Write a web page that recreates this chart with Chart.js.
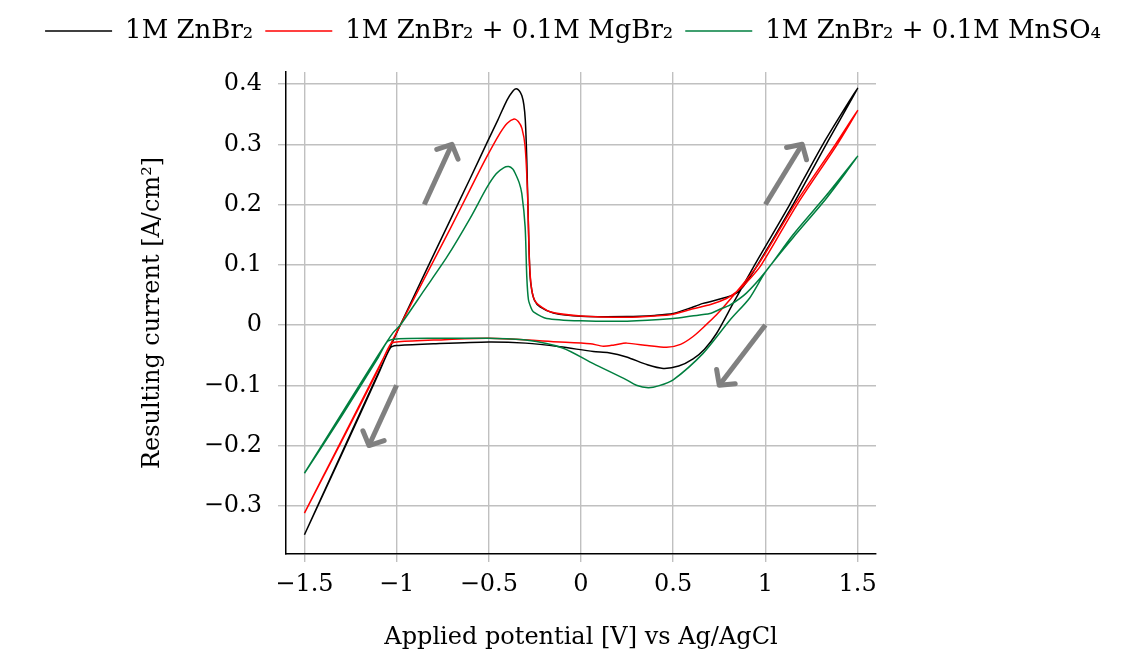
<!DOCTYPE html>
<html>
<head>
<meta charset="utf-8">
<script src="https://cdn.jsdelivr.net/npm/chart.js@4.4.0/dist/chart.umd.min.js"></script>
<style>
  html, body { margin: 0; padding: 0; background: #fff; }
  #wrap { width: 1146px; height: 652px; position: relative; }
</style>
</head>
<body>
<div id="wrap"><canvas id="cv"></canvas></div>
<script>
// series names (legend)
const seriesNames = ['1M ZnBr\u2082', '1M ZnBr\u2082 + 0.1M MgBr\u2082', '1M ZnBr\u2082 + 0.1M MnSO\u2084'];

// potential [V] / current [A/cm2], in sweep order
const blackV = [-1.5, -1.3, -1.1, -0.98, -0.85, -0.727, -0.6, -0.511, -0.45, -0.402, -0.37, -0.352, -0.335, -0.321, -0.31, -0.302, -0.294, -0.285, -0.277, -0.267, -0.252, -0.222, -0.15, 0.0, 0.25, 0.4, 0.5, 0.608, 0.662, 0.789, 0.843, 0.88, 0.958, 1.15, 1.33, 1.5,
  1.312, 1.132, 0.942, 0.825, 0.735, 0.67, 0.608, 0.53, 0.446, 0.36, 0.247, 0.15, 0.067, -0.114, -0.3, -0.5, -0.8, -1.0, -1.034, -1.1, -1.3, -1.5];
const blackI = [-0.348, -0.214, -0.080, 0.000, 0.084, 0.163, 0.244, 0.302, 0.341, 0.373, 0.388, 0.392, 0.389, 0.381, 0.366, 0.340, 0.274, 0.163, 0.085, 0.058, 0.041, 0.030, 0.020, 0.0145, 0.014, 0.016, 0.019, 0.030, 0.036, 0.046, 0.053, 0.064, 0.100, 0.200, 0.300, 0.393,
  0.300, 0.200, 0.100, 0.036, -0.014, -0.040, -0.056, -0.068, -0.072, -0.066, -0.053, -0.046, -0.044, -0.036, -0.030, -0.028, -0.031, -0.034, -0.038, -0.082, -0.216, -0.348];

const redV = [-1.5, -1.3, -1.1, -0.98, -0.85, -0.709, -0.6, -0.52, -0.44, -0.40, -0.363, -0.340, -0.320, -0.303, -0.29, -0.28, -0.268, -0.245, -0.168, 0.0, 0.25, 0.4, 0.5, 0.608, 0.703, 0.789, 0.843, 0.89, 0.978, 1.172, 1.39, 1.5,
  1.38, 1.159, 0.96, 0.807, 0.735, 0.67, 0.608, 0.54, 0.464, 0.36, 0.247, 0.18, 0.121, 0.05, -0.114, -0.5, -0.8, -1.0, -1.034, -1.1, -1.3, -1.5];
const redI = [-0.312, -0.192, -0.072, 0.000, 0.077, 0.160, 0.226, 0.274, 0.318, 0.335, 0.342, 0.338, 0.326, 0.296, 0.219, 0.108, 0.060, 0.038, 0.022, 0.015, 0.013, 0.015, 0.018, 0.027, 0.034, 0.044, 0.055, 0.068, 0.100, 0.200, 0.300, 0.356,
  0.300, 0.200, 0.100, 0.042, 0.017, -0.002, -0.019, -0.032, -0.037, -0.034, -0.030, -0.033, -0.035, -0.031, -0.028, -0.022, -0.025, -0.028, -0.032, -0.074, -0.194, -0.312];

const greenV = [-1.5, -1.3, -1.1, -1.02, -0.98, -0.85, -0.727, -0.6, -0.511, -0.46, -0.42, -0.392, -0.37, -0.357, -0.335, -0.321, -0.303, -0.294, -0.285, -0.27, -0.258, -0.186, 0.0, 0.25, 0.5, 0.6, 0.699, 0.76, 0.807, 0.897, 1.005, 1.15, 1.33, 1.5,
  1.33, 1.15, 1.0, 0.915, 0.807, 0.662, 0.5, 0.42, 0.365, 0.3, 0.247, 0.067, -0.1, -0.3, -0.5, -0.8, -1.0, -1.049, -1.1, -1.3, -1.5];
const greenI = [-0.246, -0.148, -0.050, -0.013, 0.000, 0.058, 0.113, 0.178, 0.228, 0.251, 0.261, 0.263, 0.259, 0.252, 0.236, 0.218, 0.163, 0.080, 0.042, 0.028, 0.022, 0.011, 0.007, 0.0065, 0.011, 0.015, 0.019, 0.027, 0.033, 0.053, 0.090, 0.150, 0.215, 0.280,
  0.210, 0.145, 0.088, 0.045, 0.008, -0.047, -0.091, -0.101, -0.104, -0.100, -0.091, -0.064, -0.038, -0.025, -0.022, -0.022, -0.023, -0.027, -0.054, -0.152, -0.246];

const xTicks = [-1.5, -1, -0.5, 0, 0.5, 1, 1.5];
const yTicks = [-0.3, -0.2, -0.1, 0, 0.1, 0.2, 0.3, 0.4];

// sweep direction arrows, in data units
const arrowFrom = [[-0.85, 0.2], [1.0, 0.2], [1.0, 0.0], [-1.0, -0.1]];
const arrowTo = [[-0.7, 0.3], [1.2, 0.3], [0.75, -0.1], [-1.15, -0.2]];

function toPoints(xs, ys) { return xs.map((x, i) => ({ x, y: ys[i] })); }
function fmt(v) { return String(Math.round(v * 10) / 10).replace('-', '\u2212'); }

Chart.defaults.font.family = '"DejaVu Serif", serif';
Chart.defaults.font.size = 24;
Chart.defaults.color = '#000';

// push the plot down below the legend
const legendGap = {
  id: 'legendGap',
  beforeInit(chart) {
    const fit = chart.legend.fit;
    chart.legend.fit = function () { fit.call(this); this.height += 18; };
  }
};

const flowArrows = {
  id: 'flowArrows',
  afterDatasetsDraw(chart) {
    const { ctx, scales: { x, y } } = chart;
    ctx.save();
    ctx.strokeStyle = '#808080';
    ctx.lineWidth = 5;
    ctx.lineJoin = 'round';
    arrowFrom.forEach((a, i) => {
      const x0 = x.getPixelForValue(a[0]), y0 = y.getPixelForValue(a[1]);
      const x1 = x.getPixelForValue(arrowTo[i][0]), y1 = y.getPixelForValue(arrowTo[i][1]);
      const ang = Math.atan2(y0 - y1, x0 - x1);
      ctx.lineCap = 'butt';
      ctx.beginPath(); ctx.moveTo(x0, y0); ctx.lineTo(x1, y1); ctx.stroke();
      ctx.lineCap = 'round';
      ctx.beginPath();
      ctx.moveTo(x1 + 16 * Math.cos(ang + 0.82), y1 + 16 * Math.sin(ang + 0.82));
      ctx.lineTo(x1, y1);
      ctx.lineTo(x1 + 16 * Math.cos(ang - 0.82), y1 + 16 * Math.sin(ang - 0.82));
      ctx.stroke();
    });
    ctx.restore();
  }
};

function line(label, xs, ys, color, order) {
  return { label, data: toPoints(xs, ys), showLine: true, borderColor: color, backgroundColor: color, borderWidth: 1.5, pointRadius: 0, pointHoverRadius: 0, tension: 0.25, fill: false, order };
}

new Chart(document.getElementById('cv'), {
  type: 'scatter',
  data: {
    datasets: [
      line(seriesNames[0], blackV, blackI, '#000000', 2),
      line(seriesNames[1], redV, redI, '#ff0000', 1),
      line(seriesNames[2], greenV, greenI, '#007f3f', 0),
    ]
  },
  options: {
    responsive: true,
    maintainAspectRatio: false,
    animation: false,
    devicePixelRatio: 1,
    events: [],
    layout: { padding: { top: 6 } },
    plugins: {
      legend: {
        position: 'top',
        labels: { usePointStyle: true, pointStyle: 'line', pointStyleWidth: 67, padding: 12, color: '#000', font: { size: 26 }, sort: (a, b) => a.datasetIndex - b.datasetIndex }
      },
      tooltip: { enabled: false }
    },
    scales: {
      x: {
        type: 'linear', min: -1.6, max: 1.6,
        afterBuildTicks: (s) => { s.ticks = xTicks.map((v) => ({ value: v })); },
        grid: { color: '#c0c0c0', lineWidth: 1.4, tickLength: 8 },
        border: { color: '#000', width: 1.5 },
        ticks: { padding: 8, maxRotation: 0, autoSkip: false, callback: (v) => fmt(v) },
        title: { display: true, text: 'Applied potential [V] vs Ag/AgCl', padding: { top: 0, bottom: 0 } },
        afterFit: (s) => { s.height = 98; }
      },
      y: {
        type: 'linear', position: 'left', min: -0.38, max: 0.42,
        afterBuildTicks: (s) => { s.ticks = yTicks.map((v) => ({ value: v })); },
        grid: { color: '#c0c0c0', lineWidth: 1.4, tickLength: 8 },
        border: { color: '#000', width: 1.5 },
        ticks: { padding: 16, autoSkip: false, callback: (v) => fmt(v) },
        title: { display: true, text: 'Resulting current [A/cm\u00b2]', padding: { top: 138, bottom: 0 } },
        afterFit: (s) => { s.width = 286; }
      },
      y2: {
        type: 'linear', position: 'right', display: true,
        grid: { display: false, drawTicks: false },
        border: { display: false },
        ticks: { display: false },
        afterFit: (s) => { s.width = 270; }
      }
    }
  },
  plugins: [legendGap, flowArrows]
});
</script>
</body>
</html>
